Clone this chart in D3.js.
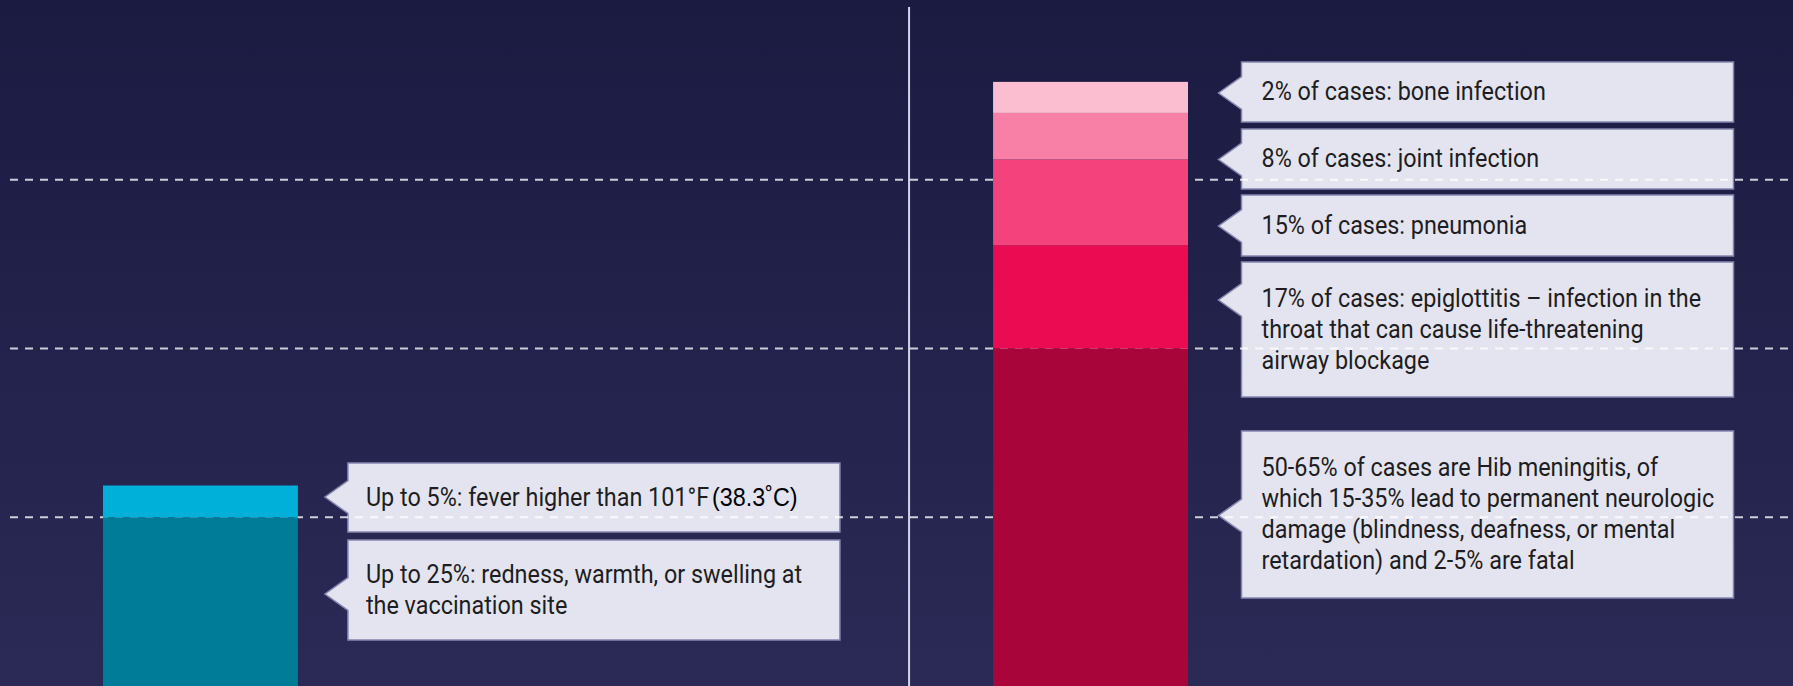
<!DOCTYPE html>
<html>
<head>
<meta charset="utf-8">
<script src="https://cdn.jsdelivr.net/npm/d3@7"></script>
<style>
  html, body { margin: 0; padding: 0; background: #222149; }
  svg { display: block; }
</style>
</head>
<body>
<svg id="chart" width="1793" height="686"></svg>
<script>
// ---------------- DATA ----------------
const categories = ["Hib vaccine", "Hib disease"];

const vaccineLabels = [
  ["Up to 25%: redness, warmth, or swelling at", "the vaccination site"],
  ["Up to 5%: fever higher than 101°F"]
];
const vaccineValues = [25, 4.7];

const diseaseLabels = [
  ["50-65% of cases are Hib meningitis, of", "which 15-35% lead to permanent neurologic", "damage (blindness, deafness, or mental", "retardation) and 2-5% are fatal"],
  ["17% of cases: epiglottitis – infection in the", "throat that can cause life-threatening", "airway blockage"],
  ["15% of cases: pneumonia"],
  ["8% of cases: joint infection"],
  ["2% of cases: bone infection"]
];
const diseaseValues = [50, 15.3, 12.7, 6.9, 4.6];

const gridTicks = [25, 50, 75];
const feverSuffix = "(38.3˚C)";

// ---------------- STYLE / LAYOUT ----------------
const vaccineColors = ["#007c98", "#00b0d8"];
const diseaseColors = ["#a8063a", "#ea0b52", "#f4437c", "#f880a6", "#fbbdd0"];

// callout boxes (pixel layout, bottom-up order like the data)
const vaccineCallouts = [
  { top: 540, bottom: 640, arrowY: 594 },
  { top: 463, bottom: 532, arrowY: 497 }
];
const diseaseCallouts = [
  { top: 431, bottom: 598, arrowY: 515.5 },
  { top: 262, bottom: 397, arrowY: 300 },
  { top: 195, bottom: 256, arrowY: 226 },
  { top: 129, bottom: 189, arrowY: 159.5 },
  { top: 62,  bottom: 122, arrowY: 93 }
];

const W = 1793, H = 686;
const svg = d3.select("#chart");

// background gradient
const defs = svg.append("defs");
const bg = defs.append("linearGradient").attr("id", "bg")
  .attr("x1", 0).attr("y1", 0).attr("x2", 0).attr("y2", 1);
bg.append("stop").attr("offset", "0%").attr("stop-color", "#1b1a41");
bg.append("stop").attr("offset", "100%").attr("stop-color", "#2b2a56");
svg.append("rect").attr("width", W).attr("height", H).attr("fill", "url(#bg)");

// scales
const x = d3.scaleBand().domain(categories).range([103, 1188]).paddingInner(0.781);
const y = d3.scaleLinear().domain([0, 100]).range([686, 11]);

// separator line
const sepX = x(categories[1]) - 84;
svg.append("line")
  .attr("x1", sepX).attr("x2", sepX).attr("y1", 7).attr("y2", H)
  .attr("stroke", "#d4d4ea").attr("stroke-width", 2);

// callouts
function drawCallouts(cat, labels, layout) {
  const barRight = x(cat) + x.bandwidth();
  const tipX = barRight + (cat === categories[0] ? 27 : 30.5);
  const left = tipX + 23;
  const right = left + 492;
  const g = svg.append("g").attr("class", "callouts");
  labels.forEach((lines, i) => {
    const L = layout[i];
    const ah = 16.5;
    const path = d3.path();
    path.moveTo(left, L.top);
    path.lineTo(right, L.top);
    path.lineTo(right, L.bottom);
    path.lineTo(left, L.bottom);
    path.lineTo(left, L.arrowY + ah);
    path.lineTo(tipX, L.arrowY);
    path.lineTo(left, L.arrowY - ah);
    path.closePath();
    g.append("path").attr("d", path.toString())
      .attr("fill", "#e4e4f0")
      .attr("stroke", "#8585b0").attr("stroke-width", 1.5);
    const cy = (L.top + L.bottom) / 2;
    const lh = 31;
    const first = cy - (lines.length - 1) * lh / 2 + 8.5;
    const tx = left + (cat === categories[0] ? 18 : 20);
    const tg = g.append("g").attr("transform", `translate(${tx},0) scale(0.935,1)`);
    const t = tg.append("text")
      .attr("font-family", "Roboto, 'Noto Sans', sans-serif")
      .attr("font-size", 25)
      .attr("fill", "#1d1d22");
    lines.forEach((ln, j) => {
      t.append("tspan").attr("x", 0).attr("y", first + j * lh).text(ln);
    });
    if (cat === categories[0] && i === 1) {
      t.append("tspan")
        .attr("dx", 3)
        .attr("font-family", "'Liberation Sans', Arial, sans-serif")
        .attr("font-size", 25)
        .attr("fill", "#000")
        .text(feverSuffix);
    }
  });
}
drawCallouts(categories[0], vaccineLabels, vaccineCallouts);
drawCallouts(categories[1], diseaseLabels, diseaseCallouts);

// grid lines (dashed)
svg.append("g").selectAll("line").data(gridTicks).join("line")
  .attr("x1", 10).attr("x2", W)
  .attr("y1", d => y(d)).attr("y2", d => y(d))
  .attr("stroke", "#ffffff").attr("stroke-opacity", 0.78)
  .attr("stroke-width", 2).attr("stroke-dasharray", "8,7");

// stacked bars
function stack(values) {
  let acc = 0;
  return values.map(v => { const s = { y0: acc, y1: acc + v }; acc += v; return s; });
}
function drawBar(cat, values, colors) {
  svg.append("g").selectAll("rect").data(stack(values)).join("rect")
    .attr("x", x(cat))
    .attr("width", x.bandwidth())
    .attr("y", d => y(d.y1))
    .attr("height", d => y(d.y0) - y(d.y1))
    .attr("fill", (d, i) => colors[i]);
}
drawBar(categories[0], vaccineValues, vaccineColors);
drawBar(categories[1], diseaseValues, diseaseColors);
</script>
</body>
</html>
